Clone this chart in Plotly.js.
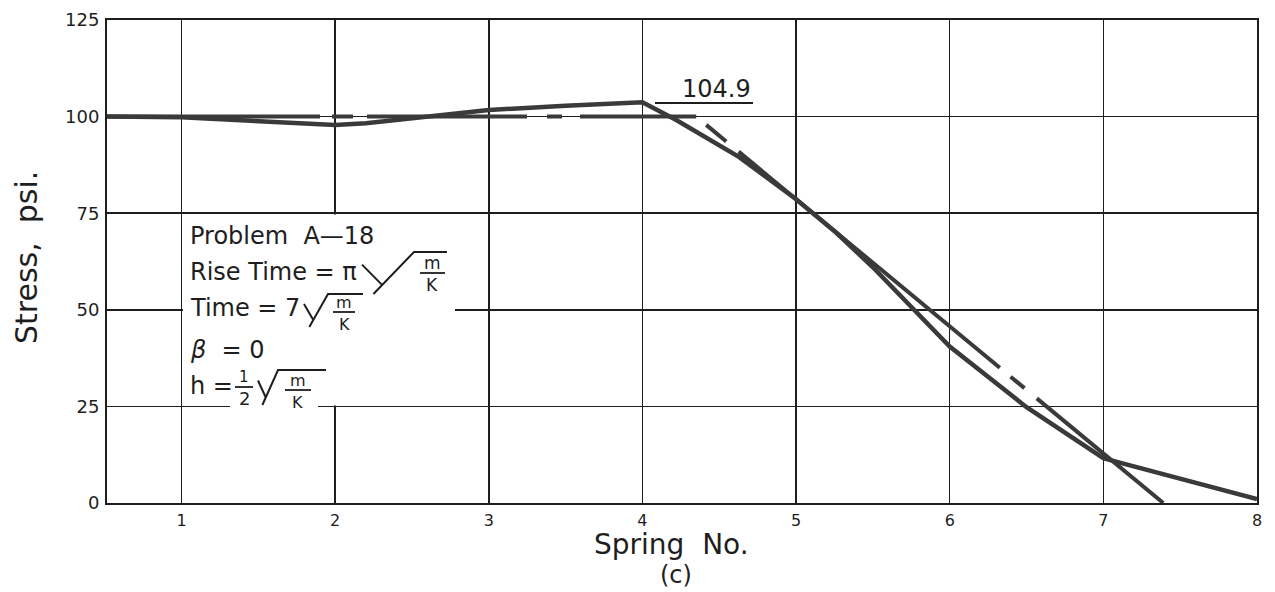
<!DOCTYPE html>
<html>
<head>
<meta charset="utf-8">
<script src="https://cdn.plot.ly/plotly-3.0.1.min.js"></script>
<style>html,body{margin:0;padding:0;background:#fff}#chart{width:1275px;height:592px}</style>
</head>
<body>
<div id="chart"></div>
<script>
// ---- data ----
const springTicks = [1, 2, 3, 4, 5, 6, 7, 8];
const springTickText = ['1', '2', '3', '4', '5', '6', '7', '8'];
const stressTicks = [0, 25, 50, 75, 100, 125];
const stressTickText = ['0', '25', '50', '75', '100', '125'];

// computed stress (solid line)
const solidX = [0.515, 1.0, 1.45, 2.0, 2.2, 2.5, 3.0, 3.5, 4.0, 4.22, 4.63, 5.0, 5.26, 5.5, 6.0, 6.5, 7.0, 7.1, 8.0];
const solidY = [100, 99.8, 98.9, 97.8, 98.3, 99.6, 101.7, 102.8, 103.7, 99.1, 89.5, 78.6, 70.0, 61.0, 40.5, 24.8, 11.6, 10.5, 1.0];

// reference stress (dashed line)
const dashX = [0.515, 4.35, 7.39];
const dashY = [100, 100, 0];

const peakLabel = '104.9';
const noteLines = ['Problem  A\u201418', 'Rise Time = \u03c0', 'Time = 7', '<i>\u03b2</i>  = 0', 'h ='];

// ---- layout helpers ----
const FONT = 'DejaVu Sans';
const INK = '#1e1e1e';
const LINE = '#3a3a3a';
const L = 107, T = 20, W = 1150, H = 483;
const px = v => (v - L) / W;
const py = v => (T + H - v) / H;

function txt(s, x, y, size, anchor, extra) {
  return Object.assign({
    text: s, xref: 'paper', yref: 'paper', x: px(x), y: py(y),
    xanchor: anchor || 'left', yanchor: 'middle', showarrow: false,
    font: {family: FONT, size: size, color: INK}
  }, extra || {});
}
function seg(x0, y0, x1, y1, w) {
  return {type: 'line', xref: 'paper', yref: 'paper', x0: px(x0), y0: py(y0), x1: px(x1), y1: py(y1),
          line: {color: INK, width: w || 2}};
}
function rad(x0, yTop, yBot, w, xEnd) {
  const h = yBot - yTop;
  const p = `M ${px(x0)},${py(yTop + 0.3 * h)} L ${px(x0 + 0.4 * w)},${py(yBot - 0.2 * h)} ` +
            `M ${px(x0 + 0.22 * w)},${py(yBot)} L ${px(x0 + w)},${py(yTop)} L ${px(xEnd)},${py(yTop)}`;
  return {type: 'path', xref: 'paper', yref: 'paper', path: p, line: {color: INK, width: 2}};
}
function whiteBox(x0, y0, x1, y1) {
  return {type: 'rect', xref: 'paper', yref: 'paper', x0: px(x0), x1: px(x1), y0: py(y1), y1: py(y0),
          fillcolor: '#ffffff', line: {width: 0}, layer: 'above'};
}

const traces = [
  {x: dashX.slice(0, 2), y: dashY.slice(0, 2), mode: 'lines', hoverinfo: 'skip',
   line: {color: LINE, width: 4, dash: '213px,12px,21px,14px,160px,20px,15px,18px,300px,0px'}},
  {x: dashX.slice(1), y: dashY.slice(1), mode: 'lines', hoverinfo: 'skip',
   line: {color: LINE, width: 4, dash: '0px,13px,26px,16px,339px,14px,18px,16px,400px,0px'}},
  {x: solidX, y: solidY, mode: 'lines', hoverinfo: 'skip',
   line: {color: LINE, width: 4.5}}
];

const axisCommon = {
  showgrid: true, gridcolor: INK, gridwidth: 1.5, zeroline: false,
  showline: true, mirror: true, linecolor: INK, linewidth: 2, ticks: '', fixedrange: true
};

const shapes = [
  whiteBox(183, 214.4, 455, 405.4),
  whiteBox(230, 400, 318, 414),
  // peak label underline
  seg(655, 103, 753, 103, 2),
  // Rise Time = pi sqrt(m/K)
  rad(362, 252, 294, 52, 447),
  seg(420, 273, 445, 273, 1.8),
  // Time = 7 sqrt(m/K)
  rad(304, 294, 327, 24, 363),
  seg(333, 312, 355, 312, 1.8),
  // h = 1/2 sqrt(m/K)
  seg(235, 387, 253, 387, 1.8),
  rad(258, 370, 405, 20, 326),
  seg(285, 390, 311, 390, 1.8)
];

const annotations = [
  txt(peakLabel, 716, 89, 24, 'center'),
  txt(noteLines[0], 188, 236, 24),
  txt(noteLines[1], 188, 272, 24),
  txt('m', 432, 263, 17, 'center'),
  txt('K', 432, 285, 17, 'center'),
  txt(noteLines[2], 188, 308, 24),
  txt('m', 344, 302, 16, 'center'),
  txt('K', 344, 324, 16, 'center'),
  txt(noteLines[3], 188, 350, 24),
  txt(noteLines[4], 188, 386, 24),
  txt('1', 244, 377, 15, 'center'),
  txt('2', 244, 398, 18, 'center'),
  txt('m', 298, 380, 16, 'center'),
  txt('K', 297, 402, 16, 'center'),
  // axis titles
  txt('Spring  No.', 671, 544, 28, 'center'),
  txt('(c)', 676, 575, 24, 'center'),
  txt('Stress,  psi.', 26, 258, 30, 'center', {textangle: -90})
];

const layout = {
  width: 1275, height: 592,
  margin: {l: L, r: 1275 - L - W, t: T, b: 592 - T - H, pad: 0},
  paper_bgcolor: '#ffffff', plot_bgcolor: '#ffffff',
  showlegend: false,
  xaxis: Object.assign({}, axisCommon, {
    range: [0.515, 8], tickmode: 'array', tickvals: springTicks, ticktext: springTickText,
    tickfont: {family: FONT, size: 16, color: INK}, ticklabelstandoff: 2
  }),
  yaxis: Object.assign({}, axisCommon, {
    range: [0, 125], tickmode: 'array', tickvals: stressTicks, ticktext: stressTickText,
    tickfont: {family: FONT, size: 18, color: INK}, ticklabelstandoff: 2
  }),
  shapes: shapes,
  annotations: annotations
};

Plotly.newPlot('chart', traces, layout, {staticPlot: true, displayModeBar: false});
</script>
</body>
</html>
